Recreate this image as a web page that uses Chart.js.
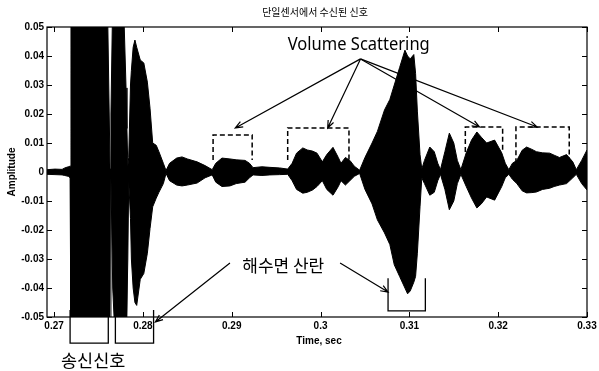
<!DOCTYPE html>
<html>
<head>
<meta charset="utf-8">
<script src="https://cdn.jsdelivr.net/npm/chart.js@4.4.1/dist/chart.umd.min.js"></script>
<style>
  html, body { margin: 0; padding: 0; background: #fff; }
  #wrap { width: 599px; height: 371px; position: relative; }
</style>
</head>
<body>
<div id="wrap"><canvas id="c"></canvas></div>
<script>
// Received signal envelope (upper / lower) sampled in time, seconds
const timeSec = [
  0.2692, 0.2701, 0.2709, 0.2712, 0.2716, 0.2718, 0.2719, 0.2760, 0.2763, 0.2764,
  0.2766, 0.2769, 0.2778, 0.2781, 0.2782, 0.2783, 0.2784, 0.2786, 0.2787, 0.2789,
  0.2791, 0.2793, 0.2797, 0.2801, 0.2805, 0.2808, 0.2811, 0.2815, 0.2818, 0.2823,
  0.2826, 0.2830, 0.2838, 0.2844, 0.2850, 0.2861, 0.2870, 0.2878, 0.2882, 0.2889,
  0.2898, 0.2905, 0.2915, 0.2920, 0.2924, 0.2934, 0.2943, 0.2954, 0.2963, 0.2968,
  0.2973, 0.2980, 0.2985, 0.2991, 0.2996, 0.3002, 0.3007, 0.3014, 0.3020, 0.3023,
  0.3028, 0.3033, 0.3038, 0.3044, 0.3050, 0.3058, 0.3064, 0.3072, 0.3078, 0.3083,
  0.3089, 0.3095, 0.3098, 0.3101, 0.3105, 0.3107, 0.3109, 0.3112, 0.3114, 0.3117,
  0.3123, 0.3128, 0.3132, 0.3135, 0.3140, 0.3145, 0.3150, 0.3154, 0.3158, 0.3164,
  0.3170, 0.3176, 0.3181, 0.3187, 0.3196, 0.3204, 0.3208, 0.3212, 0.3216, 0.3221,
  0.3227, 0.3232, 0.3238, 0.3243, 0.3250, 0.3258, 0.3263, 0.3269, 0.3277, 0.3284,
  0.3288, 0.3294, 0.3300
];
const upperEnv = [
  0.0008, 0.0010, 0.0009, 0.0014, 0.0018, 0.0020, 0.0600, 0.0600, 0.0010, 0.0200,
  0.0600, 0.0600, 0.0600, 0.0290, 0.0150, 0.0020, 0.0050, 0.0300, 0.0350, 0.0430,
  0.0455, 0.0430, 0.0386, 0.0376, 0.0310, 0.0220, 0.0100, 0.0092, 0.0070, 0.0030,
  0.0005, 0.0030, 0.0048, 0.0052, 0.0045, 0.0035, 0.0022, 0.0008, 0.0030, 0.0048,
  0.0045, 0.0042, 0.0040, 0.0030, 0.0015, 0.0018, 0.0016, 0.0014, 0.0010, 0.0030,
  0.0065, 0.0083, 0.0076, 0.0072, 0.0065, 0.0035, 0.0060, 0.0085, 0.0050, 0.0030,
  0.0050, 0.0040, 0.0020, 0.0006, 0.0050, 0.0100, 0.0140, 0.0214, 0.0250, 0.0300,
  0.0360, 0.0420, 0.0400, 0.0390, 0.0405, 0.0340, 0.0210, 0.0060, 0.0010, 0.0040,
  0.0086, 0.0070, 0.0030, 0.0008, 0.0070, 0.0134, 0.0100, 0.0040, 0.0008, 0.0066,
  0.0110, 0.0138, 0.0120, 0.0100, 0.0110, 0.0066, 0.0030, 0.0008, 0.0030, 0.0040,
  0.0075, 0.0086, 0.0078, 0.0070, 0.0066, 0.0065, 0.0058, 0.0050, 0.0060, 0.0035,
  0.0008, 0.0040, 0.0076
];
const lowerEnv = [
  -0.0008, -0.0009, -0.0010, -0.0012, -0.0015, -0.0020, -0.0600, -0.0600, -0.0550, -0.0020,
  -0.0400, -0.0600, -0.0600, -0.0600, -0.0600, -0.0300, -0.0030, -0.0160, -0.0300, -0.0400,
  -0.0450, -0.0460, -0.0370, -0.0350, -0.0280, -0.0195, -0.0120, -0.0090, -0.0070, -0.0040,
  -0.0005, -0.0030, -0.0045, -0.0048, -0.0045, -0.0038, -0.0020, -0.0010, -0.0035, -0.0050,
  -0.0048, -0.0040, -0.0035, -0.0020, -0.0010, -0.0012, -0.0010, -0.0009, -0.0008, -0.0030,
  -0.0060, -0.0073, -0.0070, -0.0062, -0.0050, -0.0030, -0.0060, -0.0080, -0.0050, -0.0030,
  -0.0045, -0.0030, -0.0015, -0.0005, -0.0060, -0.0110, -0.0165, -0.0210, -0.0250, -0.0320,
  -0.0360, -0.0400, -0.0420, -0.0410, -0.0380, -0.0360, -0.0280, -0.0120, -0.0020, -0.0040,
  -0.0080, -0.0070, -0.0030, -0.0008, -0.0060, -0.0130, -0.0100, -0.0040, -0.0008, -0.0050,
  -0.0090, -0.0124, -0.0110, -0.0086, -0.0097, -0.0050, -0.0020, -0.0008, -0.0025, -0.0040,
  -0.0065, -0.0072, -0.0071, -0.0069, -0.0060, -0.0056, -0.0050, -0.0045, -0.0040, -0.0020,
  -0.0008, -0.0040, -0.0062
];

// Axis ticks
const xTickValues = [0.27, 0.28, 0.29, 0.30, 0.31, 0.32, 0.33];
const xTickLabels = ['0.27', '0.28', '0.29', '0.3', '0.31', '0.32', '0.33'];
const yTickValues = [0.05, 0.04, 0.03, 0.02, 0.01, 0, -0.01, -0.02, -0.03, -0.04, -0.05];
const yTickLabels = ['0.05', '0.04', '0.03', '0.02', '0.01', '0', '-0.01', '-0.02', '-0.03', '-0.04', '-0.05'];

// Texts
const titleText = '단일센서에서 수신된 신호';
const xAxisTitle = 'Time, sec';
const yAxisTitle = 'Amplitude';
const volumeLabel = 'Volume Scattering';
const surfaceLabel = '해수면 산란';
const transmitLabel = '송신신호';

// Annotation geometry in data units (time, amplitude)
const volumeLabelAt = [0.3043, 0.0421];
const volumeArrowFrom = [0.3045, 0.0390];
const volumeArrowTips = [[0.2904, 0.0152], [0.3008, 0.0152], [0.3179, 0.0155], [0.3244, 0.0155]];
// [t0, t1, top, sideBottom]
const volumeBoxes = [[0.2879, 0.2923, 0.0128, 0.0041], [0.2963, 0.3032, 0.0152, 0.0041],
                     [0.3163, 0.3205, 0.0155, 0.0069], [0.3220, 0.3280, 0.0155, 0.0030]];
const surfaceLabelAt = [0.2958, -0.0321];
const surfaceArrows = [[[0.2898, -0.0314], [0.2814, -0.0517]], [[0.3022, -0.0314], [0.3076, -0.0414]]];
// [t0, t1, top, bottom] open-top brackets
const surfaceBracket = [0.3076, 0.3118, -0.0366, -0.0479];
const transmitBrackets = [[0.2718, 0.2761, -0.0476, -0.0590], [0.2769, 0.2812, -0.0476, -0.0590]];
const transmitLabelAt = [0.2744, -0.0648];

const upperPts = timeSec.map((t, i) => ({ x: t, y: upperEnv[i] }));
const lowerPts = timeSec.map((t, i) => ({ x: t, y: lowerEnv[i] }));

function drawArrow(ctx, x1, y1, x2, y2, head) {
  const a = Math.atan2(y2 - y1, x2 - x1);
  ctx.beginPath();
  ctx.moveTo(x1, y1);
  ctx.lineTo(x2, y2);
  ctx.moveTo(x2 - head * Math.cos(a - 0.38), y2 - head * Math.sin(a - 0.38));
  ctx.lineTo(x2, y2);
  ctx.lineTo(x2 - head * Math.cos(a + 0.38), y2 - head * Math.sin(a + 0.38));
  ctx.stroke();
}

function fitText(ctx, text, cx, y, width) {
  const w = ctx.measureText(text).width;
  ctx.save();
  ctx.translate(cx, y);
  ctx.scale(width / w, 1);
  ctx.textAlign = 'center';
  ctx.fillText(text, 0, 0);
  ctx.restore();
}

const decorPlugin = {
  id: 'decor',
  beforeDraw(chart) {
    const ctx = chart.ctx;
    ctx.save();
    ctx.fillStyle = '#fff';
    ctx.fillRect(0, 0, chart.width, chart.height);
    ctx.restore();
  },
  afterDraw(chart) {
    const ctx = chart.ctx;
    const xs = chart.scales.x, ys = chart.scales.y;
    const X = v => xs.getPixelForValue(v);
    const Y = v => ys.getPixelForValue(v);
    const a = chart.chartArea;
    ctx.save();
    ctx.strokeStyle = '#000';
    ctx.fillStyle = '#000';

    // axes frame with inward ticks
    ctx.lineWidth = 1.2;
    ctx.strokeRect(a.left, a.top, a.right - a.left, a.bottom - a.top);
    ctx.lineWidth = 1;
    ctx.beginPath();
    xTickValues.forEach(v => {
      const x = Math.round(X(v)) + 0.5;
      ctx.moveTo(x, a.bottom); ctx.lineTo(x, a.bottom - 5);
      ctx.moveTo(x, a.top); ctx.lineTo(x, a.top + 5);
    });
    yTickValues.forEach(v => {
      const y = Math.round(Y(v)) + 0.5;
      ctx.moveTo(a.left, y); ctx.lineTo(a.left + 5, y);
      ctx.moveTo(a.right, y); ctx.lineTo(a.right - 5, y);
    });
    ctx.stroke();

    // title and axis titles
    ctx.font = '10px "Noto Sans CJK KR"';
    ctx.textAlign = 'center';
    ctx.textBaseline = 'middle';
    ctx.fillText(titleText, (a.left + a.right) / 2 - 2, a.top - 15);
    ctx.font = 'bold 10px "Liberation Sans"';
    ctx.fillText(xAxisTitle, (a.left + a.right) / 2 + 2, a.bottom + 24);
    ctx.save();
    ctx.translate(12, (a.top + a.bottom) / 2);
    ctx.rotate(-Math.PI / 2);
    ctx.fillText(yAxisTitle, 0, 0);
    ctx.restore();

    // volume scattering boxes
    ctx.lineWidth = 1.5;
    ctx.setLineDash([5, 3]);
    volumeBoxes.forEach(b => {
      ctx.beginPath();
      ctx.moveTo(X(b[0]), Y(b[3]));
      ctx.lineTo(X(b[0]), Y(b[2]));
      ctx.lineTo(X(b[1]), Y(b[2]));
      ctx.lineTo(X(b[1]), Y(b[3]));
      ctx.stroke();
    });
    ctx.setLineDash([]);

    // arrows
    ctx.lineWidth = 1.2;
    volumeArrowTips.forEach(t => drawArrow(ctx, X(volumeArrowFrom[0]), Y(volumeArrowFrom[1]), X(t[0]), Y(t[1]), 8));
    surfaceArrows.forEach(s => drawArrow(ctx, X(s[0][0]), Y(s[0][1]), X(s[1][0]), Y(s[1][1]), 8));

    // brackets
    ctx.lineWidth = 1.3;
    const bracket = b => {
      ctx.beginPath();
      ctx.moveTo(X(b[0]), Y(b[2]));
      ctx.lineTo(X(b[0]), Y(b[3]));
      ctx.lineTo(X(b[1]), Y(b[3]));
      ctx.lineTo(X(b[1]), Y(b[2]));
      ctx.stroke();
    };
    bracket(surfaceBracket);
    transmitBrackets.forEach(bracket);

    // labels
    ctx.font = '18px "Noto Sans"';
    ctx.textBaseline = 'alphabetic';
    fitText(ctx, volumeLabel, X(volumeLabelAt[0]), Y(volumeLabelAt[1]), 142);
    ctx.font = '17px "Noto Sans CJK KR"';
    ctx.textBaseline = 'middle';
    ctx.textAlign = 'center';
    ctx.fillText(surfaceLabel, X(surfaceLabelAt[0]), Y(surfaceLabelAt[1]));
    ctx.font = '17.5px "Noto Sans CJK KR"';
    ctx.fillText(transmitLabel, X(transmitLabelAt[0]), Y(transmitLabelAt[1]));
    ctx.restore();
  }
};

const tickFont = { family: 'Liberation Sans', size: 10, weight: 'bold' };

new Chart(document.getElementById('c'), {
  type: 'line',
  data: {
    datasets: [
      { data: upperPts, borderColor: '#000', backgroundColor: '#000', borderWidth: 1,
        pointRadius: 0, tension: 0, fill: '+1' },
      { data: lowerPts, borderColor: '#000', backgroundColor: '#000', borderWidth: 1,
        pointRadius: 0, tension: 0, fill: false }
    ]
  },
  options: {
    responsive: true,
    maintainAspectRatio: false,
    animation: false,
    devicePixelRatio: 1,
    layout: { padding: { top: 27, right: 12, left: 0, bottom: 0 } },
    plugins: { legend: { display: false }, tooltip: { enabled: false }, title: { display: false } },
    scales: {
      x: {
        type: 'linear', min: 0.2692, max: 0.33,
        grid: { display: false, drawTicks: false },
        border: { display: false },
        ticks: { color: '#000', font: tickFont, padding: 3, maxRotation: 0, autoSkip: false,
                 callback: (v, i) => xTickLabels[i] },
        afterBuildTicks: s => { s.ticks = xTickValues.map(v => ({ value: v })); },
        afterFit: s => { s.height = 54; s.paddingLeft = 0; s.paddingRight = 0; }
      },
      y: {
        min: -0.05, max: 0.05,
        grid: { display: false, drawTicks: false },
        border: { display: false },
        ticks: { color: '#000', font: tickFont, padding: 3, autoSkip: false,
                 callback: (v, i) => yTickLabels[i] },
        afterBuildTicks: s => { s.ticks = yTickValues.map(v => ({ value: v })); },
        afterFit: s => { s.width = 47; s.paddingTop = 0; s.paddingBottom = 0; }
      }
    }
  },
  plugins: [decorPlugin]
});
</script>
</body>
</html>
